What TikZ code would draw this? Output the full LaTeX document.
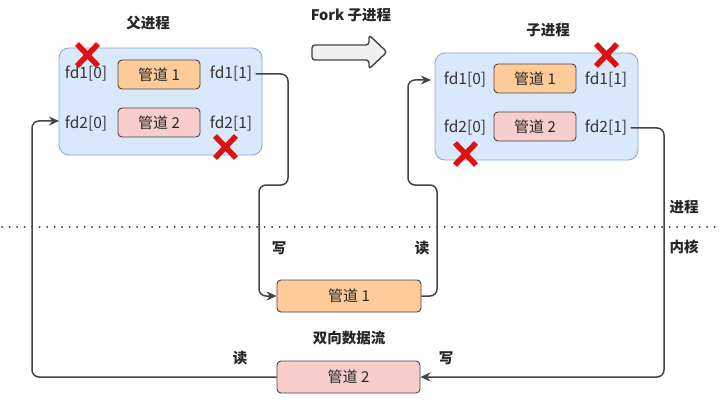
\documentclass[tikz,border=0pt]{standalone}
\usepackage{fontspec}
\setmainfont{Noto Sans CJK SC}
\usetikzlibrary{arrows.meta}
\definecolor{procfill}{HTML}{DAE8FC}
\definecolor{procdraw}{HTML}{8EA9D0}
\definecolor{orangefill}{HTML}{FFCC99}
\definecolor{pinkfill}{HTML}{F8CECC}
\definecolor{linecol}{HTML}{444444}
\definecolor{xred}{HTML}{E01010}
\tikzset{
  proc/.style={draw=procdraw, fill=procfill, rounded corners=10pt, line width=0.9pt},
  pipeA/.style={draw=linecol, fill=orangefill, rounded corners=4pt, line width=0.9pt, minimum width=82pt, minimum height=29pt, font=\fontsize{15}{17}\selectfont, text=black!85},
  pipeB/.style={draw=linecol, fill=pinkfill, rounded corners=4pt, line width=0.9pt, minimum width=82pt, minimum height=29pt, font=\fontsize{15}{17}\selectfont, text=black!85},
  kpipeA/.style={pipeA, minimum width=144pt, minimum height=32pt},
  kpipeB/.style={pipeB, minimum width=143pt, minimum height=32pt},
  fdlab/.style={font=\fontsize{15.5}{17}\selectfont, text=black!80},
  title/.style={font=\bfseries\fontsize{14.5}{16}\selectfont, text=black!85},
  conn/.style={draw=linecol, line width=1.5pt, rounded corners=7pt},
  arr/.style={conn, -{Stealth[length=10pt,width=9pt]}},
  xmark/.style={draw=xred, line width=5.5pt},
}
\begin{document}
\begin{tikzpicture}[x=1pt,y=-1pt]
\useasboundingbox (0,0) rectangle (720,409);
\fill[white] (0,0) rectangle (720,409);

% parent process
\node[title] (ptitle) at (148,23) {父进程};
\draw[proc] (59,48) rectangle (262,155);
\coordinate (pbox) at (59,121);
\node[pipeA] (pp1) at (159,74.5) {管道 1};
\node[pipeB] (pp2) at (159,122.5) {管道 2};
\node[fdlab] (pf10) at (86,74) {fd1[0]};
\node[fdlab] (pf11) at (231,74) {fd1[1]};
\node[fdlab] (pf20) at (86,124) {fd2[0]};
\node[fdlab] (pf21) at (231,124) {fd2[1]};
\draw[xmark] (77,44) -- (98,66) (98,44) -- (77,66);
\draw[xmark] (215,136) -- (236,158) (236,136) -- (215,158);

% fork arrow
\node[title] (forkt) at (351,15) {Fork 子进程};
\draw[draw=linecol, fill=black!6, line width=1.4pt, rounded corners=3pt]
  (312,45) -- (369,45) -- (369,35) -- (387,52) -- (369,69) -- (369,60) -- (312,60) -- cycle;

% child process
\node[title] (ctitle) at (548,30) {子进程};
\draw[proc] (435,53) rectangle (638,160);
\node[pipeA] (cp1) at (535,78.5) {管道 1};
\node[pipeB] (cp2) at (535,126.5) {管道 2};
\node[fdlab] (cf10) at (465,80) {fd1[0]};
\node[fdlab] (cf11) at (606,80) {fd1[1]};
\node[fdlab] (cf20) at (465,128) {fd2[0]};
\node[fdlab] (cf21) at (606,128) {fd2[1]};
\coordinate (cin) at (431,80);
\draw[xmark] (596,44) -- (617,66) (617,44) -- (596,66);
\draw[xmark] (455,143) -- (476,165) (476,143) -- (455,165);

% separator
\draw[line width=1.8pt, dash pattern=on 0.1pt off 7.4pt, line cap=round, black!80] (2,227) -- (720,227);
\node[title] (lproc) at (684,207) {进程};
\node[title] (lkern) at (684,247) {内核};

% kernel pipes
\node[kpipeA] (kp1) at (349,296) {管道 1};
\node[title] (bidir) at (349,338) {双向数据流};
\node[kpipeB] (kp2) at (348.5,377) {管道 2};

% connectors
\draw[arr] (pf11.east) -- (288,74) -- (288,185) -- (259,185) -- (259,296) -- (kp1.west);
\node[title] (w1) at (279,248) {写};
\draw[arr] (kp1.east) -- (437,296) -- (437,185) -- (408,185) -- (408,80) -- (cin);
\node[title] (r1) at (422,248) {读};
\draw[arr] (cf21.east) -- (664,128) -- (664,377) -- (kp2.east);
\node[title] (w2) at (446,358) {写};
\draw[arr] (kp2.west) -- (32,377) -- (32,121) -- (pbox);
\node[title] (r2) at (240,358) {读};
\end{tikzpicture}
\end{document}
